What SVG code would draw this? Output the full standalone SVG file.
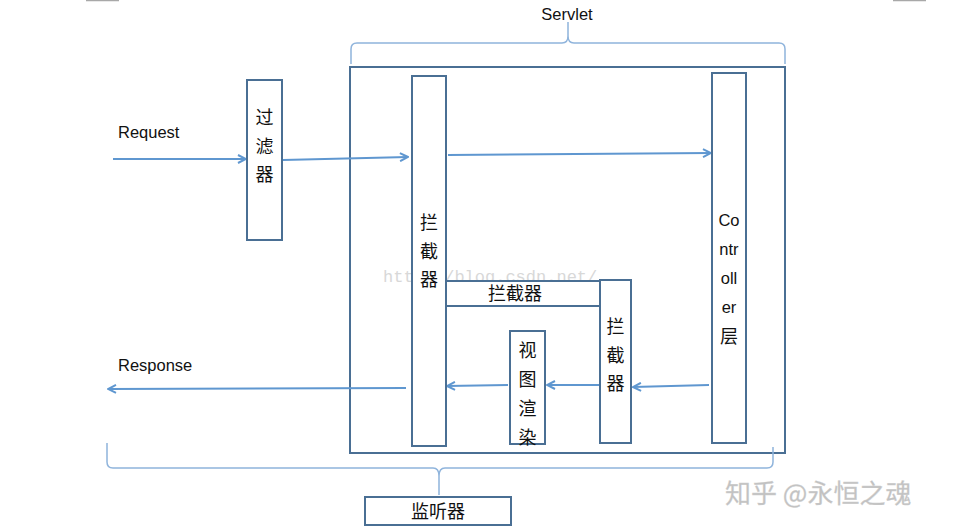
<svg xmlns="http://www.w3.org/2000/svg" width="954" height="532" viewBox="0 0 954 532">
  <style>
    .box { fill: #ffffff; stroke: #4a6f94; stroke-width: 2; }
    .frame { fill: none; stroke: #4a6f94; stroke-width: 2; }
    .flow { fill: none; stroke: #5f97d0; stroke-width: 2; marker-end: url(#head); }
    .brace { fill: none; stroke: #8fb4dc; stroke-width: 1.5; }
    .cjk { font-family: "Noto Sans CJK SC", sans-serif; font-size: 18px; fill: #111; text-anchor: middle; }
    .lat { font-family: "Liberation Sans", "Noto Sans", sans-serif; font-size: 16.5px; fill: #111; }
    .latc { font-family: "Liberation Sans", "Noto Sans", sans-serif; font-size: 16.5px; fill: #111; text-anchor: middle; }
  </style>
  <defs>
    <marker id="head" viewBox="0 0 10 10" refX="9" refY="5" markerWidth="10" markerHeight="10" markerUnits="userSpaceOnUse" orient="auto">
      <path d="M1,1 L9,5 L1,9" fill="none" stroke="#5f97d0" stroke-width="2"/>
    </marker>
  </defs>

  <rect width="954" height="532" fill="#ffffff"/>

  <!-- small rules at the top edge -->
  <line x1="86" y1="0.5" x2="119" y2="0.5" stroke="#a8a8a8" stroke-width="1.5"/>
  <line x1="893" y1="0.5" x2="926" y2="0.5" stroke="#a8a8a8" stroke-width="1.5"/>

  <!-- Servlet brace and label -->
  <g id="servlet-brace">
    <path class="brace" d="M351,64 L351,49 Q351,43 357,43 L562,43 Q568,43 568,36 L568,22 M568,36 Q568,43 574,43 L779,43 Q785,43 785,49 L785,64"/>
    <text class="latc" x="567" y="20">Servlet</text>
  </g>

  <!-- Servlet container -->
  <g id="servlet">
    <rect class="frame" x="350" y="67" width="435" height="386"/>
  </g>

  <!-- faint blog address -->
  <text x="383" y="282" font-family="Liberation Mono, monospace" font-size="17" fill="#d8d8d8">http://blog.csdn.net/</text>

  <!-- connectors -->
  <g id="connectors">
    <path class="flow" d="M113,159 L246,159"/>
    <path class="flow" d="M283,160 L408,157"/>
    <path class="flow" d="M448,155 L711,153"/>
    <path class="flow" d="M709,385 L633,387"/>
    <path class="flow" d="M599,385 L547,385"/>
    <path class="flow" d="M508,385 L447,386"/>
    <path class="flow" d="M406,388 L108,389"/>
  </g>

  <text class="lat" x="118" y="138">Request</text>
  <text class="lat" x="118" y="371">Response</text>

  <g id="filter">
    <rect class="box" x="247" y="80" width="35" height="160"/>
    <text class="cjk" x="264.5" y="124">过</text>
    <text class="cjk" x="264.5" y="153">滤</text>
    <text class="cjk" x="264.5" y="181">器</text>
  </g>

  <g id="interceptor-main">
    <rect class="box" x="412" y="76" width="34" height="370"/>
    <text class="cjk" x="429" y="229">拦</text>
    <text class="cjk" x="429" y="258">截</text>
    <text class="cjk" x="429" y="286">器</text>
  </g>

  <g id="controller">
    <rect class="box" x="712" y="73" width="34" height="370"/>
    <text class="latc" x="729" y="226">Co</text>
    <text class="latc" x="729" y="255">ntr</text>
    <text class="latc" x="729" y="284">oll</text>
    <text class="latc" x="729" y="313">er</text>
    <text class="cjk" x="729" y="343">层</text>
  </g>

  <g id="interceptor-bar">
    <rect class="box" x="446" y="281" width="155" height="25"/>
    <text class="cjk" x="515" y="300">拦截器</text>
  </g>

  <g id="interceptor-side">
    <rect class="box" x="600" y="280" width="31" height="163"/>
    <text class="cjk" x="615.5" y="333">拦</text>
    <text class="cjk" x="615.5" y="362">截</text>
    <text class="cjk" x="615.5" y="390">器</text>
  </g>

  <g id="view-render">
    <rect class="box" x="510" y="331" width="35" height="113"/>
    <text class="cjk" x="527.5" y="357">视</text>
    <text class="cjk" x="527.5" y="386">图</text>
    <text class="cjk" x="527.5" y="415">渲</text>
    <text class="cjk" x="527.5" y="444">染</text>
  </g>

  <!-- listener brace -->
  <g id="listener-brace">
    <path class="brace" d="M107,443 L107,462 Q107,468 113,468 L433,468 Q439,468 439,476 L439,495 M439,476 Q439,468 445,468 L767,468 Q773,468 773,462 L773,447"/>
  </g>

  <g id="listener">
    <rect class="box" x="365" y="497" width="146" height="28"/>
    <text class="cjk" x="438" y="518">监听器</text>
  </g>

  <!-- signature -->
  <text x="725" y="503" font-family="Noto Sans CJK SC, sans-serif" font-size="26" fill="#c2c2c2" stroke="#d0d0d0" stroke-width="0.3">知乎 @永恒之魂</text>
</svg>
